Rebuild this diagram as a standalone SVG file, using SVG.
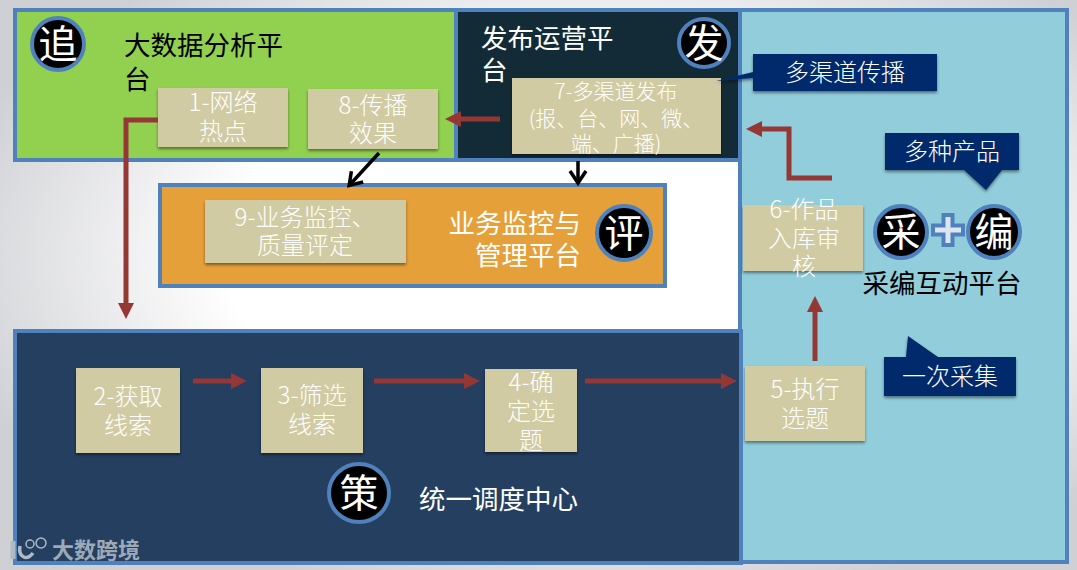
<svg xmlns="http://www.w3.org/2000/svg" width="1077" height="570" viewBox="0 0 1077 570">
<defs>
<radialGradient id="bg" cx="55%" cy="45%" r="62%"><stop offset="0.55" stop-color="#ffffff"/><stop offset="1" stop-color="#cfd0d4"/></radialGradient>
<filter id="sh" x="-10%" y="-10%" width="120%" height="125%"><feDropShadow dx="0" dy="2" stdDeviation="1.5" flood-color="#000" flood-opacity="0.45"/></filter>
<marker id="ar" markerUnits="userSpaceOnUse" markerWidth="18" markerHeight="18" refX="9" refY="9" orient="auto"><path d="M1 1L17 9L1 17Z" fill="#953735"/></marker>
<marker id="ab" markerUnits="userSpaceOnUse" markerWidth="22" markerHeight="22" refX="16" refY="11" orient="auto"><path d="M6 3L18 11L6 19" fill="none" stroke="#000" stroke-width="3.5"/></marker>
</defs>
<style>
text{font-family:"Noto Sans CJK SC","Liberation Sans",sans-serif}
.panel{stroke:#4F81BD;stroke-width:4}
.box{fill:#D0CBA3;filter:url(#sh)}
.bt{fill:#fff;font-size:24px;font-weight:300;text-anchor:middle}
.sm{font-size:21px}
.call{fill:#002A6C;filter:url(#sh)}
.ct{fill:#fff;font-size:24px;font-weight:300;text-anchor:middle}
.badge{fill:#000;stroke:#4F81BD;stroke-width:4}
.bl{fill:#fff;font-size:39px;text-anchor:middle}
.title{font-size:26.5px}
.red{fill:none;stroke:#953735;stroke-width:5;marker-end:url(#ar)}
.blk{fill:none;stroke:#000;stroke-width:3.5;marker-end:url(#ab)}
</style>
<rect width="1077" height="570" fill="url(#bg)"/>

<g id="panel-collect"><rect class="panel" x="740" y="10" width="327" height="552" fill="#92CDDC"/></g>
<g id="panel-analysis"><rect class="panel" x="15" y="10" width="441" height="150" fill="#92D050"/>
<text class="title" fill="#000"><tspan x="124" y="55">大数据分析平</tspan><tspan x="124" y="89">台</tspan></text></g>
<g id="panel-publish"><rect class="panel" x="456" y="10" width="284" height="150" fill="#132B36"/>
<text class="title" fill="#fff"><tspan x="481" y="48">发布运营平</tspan><tspan x="481" y="80">台</tspan></text></g>
<g id="panel-monitor"><rect class="panel" x="160" y="185" width="505" height="101" fill="#E6A03A"/>
<text class="title" fill="#fff" text-anchor="end"><tspan x="581" y="233">业务监控与</tspan><tspan x="581" y="265">管理平台</tspan></text></g>
<g id="panel-dispatch"><rect class="panel" x="15" y="331" width="726" height="232" fill="#243F60"/>
<text x="419" y="509" fill="#fff" font-size="26.5">统一调度中心</text></g>

<g id="badge-zhui"><circle class="badge" cx="58" cy="44" r="26"/><text class="bl" x="58" y="58">追</text></g>
<g id="badge-fa"><ellipse class="badge" cx="704" cy="43" rx="25" ry="24"/><text class="bl" x="704" y="57">发</text></g>
<g id="badge-ping"><circle class="badge" cx="624" cy="233" r="27"/><text class="bl" x="624" y="247">评</text></g>
<g id="badge-ce"><ellipse class="badge" cx="359" cy="493" rx="30" ry="29"/><text class="bl" x="359" y="507">策</text></g>
<g id="badge-cai"><circle class="badge" cx="901" cy="232" r="26"/><text class="bl" x="901" y="246">采</text></g>
<g id="badge-bian"><circle class="badge" cx="994" cy="232" r="26"/><text class="bl" x="994" y="246">编</text></g>
<g id="plus"><path d="M943.5 215H952.5V225.5H963V234.5H952.5V245H943.5V234.5H933V225.5H943.5Z" fill="#DCE6F2" stroke="#4F81BD" stroke-width="4"/></g>
<g id="label-caibian"><text x="942" y="293" fill="#000" font-size="26.5" text-anchor="middle">采编互动平台</text></g>

<g id="n1"><rect class="box" x="158" y="88" width="130" height="59"/><text class="bt"><tspan x="223" y="111">1-网络</tspan><tspan x="223" y="140">热点</tspan></text></g>
<g id="n8"><rect class="box" x="308" y="89" width="130" height="60"/><text class="bt"><tspan x="373" y="114">8-传播</tspan><tspan x="373" y="142">效果</tspan></text></g>
<g id="n7"><rect class="box" x="512" y="78" width="209" height="76"/><text class="bt sm"><tspan x="616" y="99">7-多渠道发布</tspan><tspan x="616" y="126">(报、台、网、微、</tspan><tspan x="616" y="151">端、广播)</tspan></text></g>
<g id="n9"><rect class="box" x="205" y="200" width="201" height="63"/><text class="bt"><tspan x="305" y="226">9-业务监控、</tspan><tspan x="305" y="254">质量评定</tspan></text></g>
<g id="n6"><rect class="box" x="743" y="205" width="120" height="66"/><text class="bt"><tspan x="804" y="218">6-作品</tspan><tspan x="804" y="247">入库审</tspan><tspan x="804" y="275">核</tspan></text></g>
<g id="n5"><rect class="box" x="745" y="366" width="120" height="75"/><text class="bt"><tspan x="805" y="398">5-执行</tspan><tspan x="805" y="427">选题</tspan></text></g>
<g id="n2"><rect class="box" x="76" y="368" width="104" height="85"/><text class="bt"><tspan x="128" y="405">2-获取</tspan><tspan x="128" y="434">线索</tspan></text></g>
<g id="n3"><rect class="box" x="261" y="368" width="102" height="85"/><text class="bt"><tspan x="312" y="404">3-筛选</tspan><tspan x="312" y="433">线索</tspan></text></g>
<g id="n4"><rect class="box" x="485" y="369" width="92" height="83"/><text class="bt"><tspan x="531" y="391">4-确</tspan><tspan x="531" y="420">定选</tspan><tspan x="531" y="449">题</tspan></text></g>

<g id="callout-channels"><path class="call" d="M753 54H937V91H753V78L716 81L753 72Z"/><text class="ct" x="845" y="81">多渠道传播</text></g>
<g id="callout-products"><path class="call" d="M885 133H1019V170H1002L986 190L964 170H885Z"/><text class="ct" x="952" y="160">多种产品</text></g>
<g id="callout-capture"><path class="call" d="M884 357H906L908 336L938 357H1016V396H884Z"/><text class="ct" x="950" y="385">一次采集</text></g>

<g id="watermark" fill="none" stroke="#B0BAC5">
<path d="M13 541V559" stroke-width="5"/><path d="M20 546C18 556 26 562 33 553" stroke-width="3.5"/>
<circle cx="30" cy="544" r="4" stroke-width="1.5"/><circle cx="41" cy="543" r="5" stroke-width="1.5"/>
<text x="52" y="558" font-size="22" font-weight="700" fill="#9DA9B6" stroke="none">大数跨境</text></g>

<g id="connectors">
<path class="red" d="M158 120H126V311"/>
<path class="red" d="M500 119H453"/>
<path class="red" d="M832 178H789V129H754"/>
<path class="red" d="M815 361V304"/>
<path class="red" d="M193 381H239"/>
<path class="red" d="M374 381H472"/>
<path class="red" d="M585 381H729"/>
<path class="blk" d="M379 153L350.500 184"/>
<path class="blk" d="M578 161V181"/>
</g>
</svg>
